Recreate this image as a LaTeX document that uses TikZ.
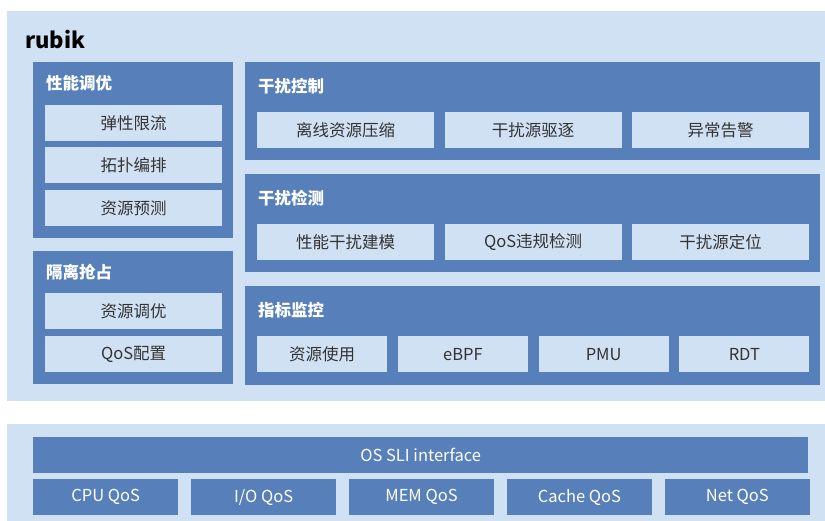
\documentclass[tikz,border=0pt]{standalone}
\usepackage{fontspec}
\setmainfont{Noto Sans CJK SC}
\usepackage{tikz}
\usetikzlibrary{positioning,calc}
\definecolor{rbBlue}{HTML}{5780BA}
\definecolor{rbBlueLt}{HTML}{D0E1F3}
\definecolor{rbText}{HTML}{333333}
\tikzset{
  panelbox/.style={fill=rbBlueLt, draw=none},
  groupbox/.style={fill=rbBlue, draw=none},
  grouptitle/.style={anchor=west, text=white, inner sep=0pt,
                     font=\fontsize{16.5}{19}\selectfont\bfseries},
  itembox/.style={fill=rbBlueLt, draw=none, inner sep=0pt, minimum height=36pt,
                  text=rbText, font=\fontsize{16.5}{19}\selectfont},
  qosbox/.style={fill=rbBlue, draw=none, inner sep=0pt, minimum height=36pt,
                 text=white, font=\fontsize{16.5}{19}\selectfont},
}
\begin{document}
\begin{tikzpicture}[x=1pt, y=-1pt]
\useasboundingbox (0,0) rectangle (825,521);

%% rubik panel
\fill[panelbox] (7,11) rectangle (825,401);
\node[anchor=west, inner sep=0pt, font=\fontsize{22}{26}\selectfont\bfseries] (rubik) at (25,40) {rubik};

%% left column
\fill[groupbox] (33,62) rectangle (233,238);
\node[grouptitle] (tune) at (46,83) {性能调优};
\node[itembox, minimum width=177pt, anchor=north west] (elastic) at (45,105) {弹性限流};
\node[itembox, minimum width=177pt, anchor=north west] (topo) at (45,147) {拓扑编排};
\node[itembox, minimum width=177pt, anchor=north west] (predict) at (45,190) {资源预测};

\fill[groupbox] (33,251) rectangle (233,384);
\node[grouptitle] (isolate) at (46,272) {隔离抢占};
\node[itembox, minimum width=177pt, anchor=north west] (restune) at (45,293) {资源调优};
\node[itembox, minimum width=177pt, anchor=north west] (qoscfg) at (45,336) {QoS配置};

%% right column
\fill[groupbox] (245,62) rectangle (820,160);
\node[grouptitle] (ctrl) at (258,86) {干扰控制};
\node[itembox, minimum width=177pt, anchor=north west] (offline) at (257,112) {离线资源压缩};
\node[itembox, minimum width=177pt, right=10pt of offline] (evict) {干扰源驱逐};
\node[itembox, minimum width=177pt, right=10pt of evict] (alarm) {异常告警};

\fill[groupbox] (245,174) rectangle (820,272);
\node[grouptitle] (detect) at (258,198) {干扰检测};
\node[itembox, minimum width=177pt, anchor=north west] (model) at (257,224) {性能干扰建模};
\node[itembox, minimum width=177pt, right=10pt of model] (violate) {QoS违规检测};
\node[itembox, minimum width=177pt, right=10pt of violate] (locate) {干扰源定位};

\fill[groupbox] (245,286) rectangle (820,385);
\node[grouptitle] (monitor) at (258,310) {指标监控};
\node[itembox, minimum width=130pt, anchor=north west] (usage) at (257,336) {资源使用};
\node[itembox, minimum width=130pt, right=10.33pt of usage] (ebpf) {eBPF};
\node[itembox, minimum width=130pt, right=10.33pt of ebpf] (pmu) {PMU};
\node[itembox, minimum width=130pt, right=10.33pt of pmu] (rdt) {RDT};

%% OS panel
\fill[panelbox] (7,424) rectangle (825,521);
\node[qosbox, minimum width=775pt, anchor=north west] (sli) at (33,437) {OS SLI interface};
\node[qosbox, minimum width=145pt, anchor=north west] (cpu) at (33,479) {CPU QoS};
\node[qosbox, minimum width=145pt, right=12.5pt of cpu] (io) {I/O QoS};
\node[qosbox, minimum width=145pt, right=12.5pt of io] (mem) {MEM QoS};
\node[qosbox, minimum width=145pt, right=12.5pt of mem] (cache) {Cache QoS};
\node[qosbox, minimum width=145pt, right=12.5pt of cache] (net) {Net QoS};
\end{tikzpicture}
\end{document}
